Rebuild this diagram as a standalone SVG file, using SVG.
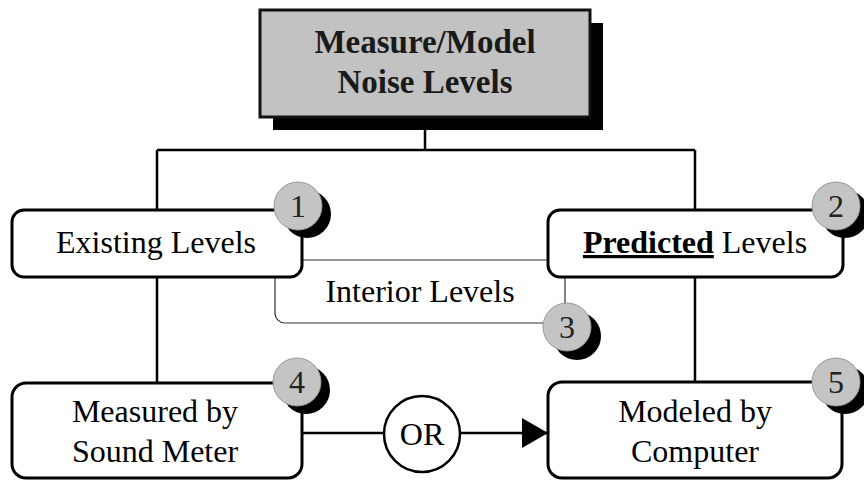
<svg xmlns="http://www.w3.org/2000/svg" width="864" height="482" viewBox="0 0 864 482">
<style>
.box{fill:#fff;stroke:#000;stroke-width:3}
.line{stroke:#000;stroke-width:2.5;fill:none}
.thin{stroke:#333;stroke-width:1.2;fill:none}
.t{font-family:"Liberation Serif","Times New Roman",serif;font-size:32px;fill:#000;text-anchor:middle}
.tb{font-family:"Liberation Serif","Times New Roman",serif;font-size:33px;font-weight:bold;fill:#1a1a1a;text-anchor:middle}
.bg{fill:#c4c4c4;stroke:#999;stroke-width:1}
.bs{fill:#000}
.bn{font-family:"Liberation Serif","Times New Roman",serif;font-size:32px;fill:#222;text-anchor:middle}
</style>
<defs>
<marker id="arr" markerWidth="26" markerHeight="30" refX="25" refY="15" orient="auto" markerUnits="userSpaceOnUse">
<path d="M0,0 L26,15 L0,30 Z" fill="#000"/>
</marker>
</defs>
<g id="connectors">
<path class="line" d="M425,130 V150 M157,150 H695 M157,150 V210 M695,150 V210 M157,277 V383 M695,277 V382"/>
<path class="line" d="M302,433 H384 M460,433 H547" marker-end="url(#arr)"/>
</g>
<g id="node-interior">
<rect class="thin" x="275" y="260" width="290" height="63" rx="10" fill="none"/>
<text class="t" x="420" y="302">Interior Levels</text>
</g>
<g id="node-top">
<rect x="273" y="23" width="330" height="107" fill="#000"/>
<rect x="260" y="10" width="330" height="107" fill="#c2c2c2" stroke="#111" stroke-width="3"/>
<text class="tb" x="425" y="53">Measure/Model</text>
<text class="tb" x="425" y="93">Noise Levels</text>
</g>
<g id="node-1">
<rect class="box" x="12" y="210" width="290" height="67" rx="12"/>
<text class="t" x="156" y="253">Existing Levels</text>
</g>
<g id="node-2">
<rect class="box" x="548" y="210" width="295" height="67" rx="12"/>
<text class="t" x="695" y="253"><tspan font-weight="bold" text-decoration="underline">Predicted</tspan> Levels</text>
</g>
<g id="node-4">
<rect class="box" x="12" y="383" width="290" height="95" rx="14"/>
<text class="t" x="155" y="422">Measured by</text>
<text class="t" x="155" y="462">Sound Meter</text>
</g>
<g id="node-5">
<rect class="box" x="548" y="382" width="294" height="96" rx="14"/>
<text class="t" x="695" y="422">Modeled by</text>
<text class="t" x="695" y="462">Computer</text>
</g>
<g id="node-or">
<circle cx="422" cy="434" r="38" fill="#fff" stroke="#000" stroke-width="2.5"/>
<text class="t" x="422" y="445">OR</text>
</g>
<g id="badge-1">
<circle class="bs" cx="307" cy="214" r="24"/>
<circle class="bg" cx="298" cy="206" r="24"/>
<text class="bn" x="298" y="217">1</text>
</g>
<g id="badge-2">
<circle class="bs" cx="845" cy="214" r="24"/>
<circle class="bg" cx="836" cy="206" r="24"/>
<text class="bn" x="836" y="217">2</text>
</g>
<g id="badge-3">
<circle class="bs" cx="577" cy="336" r="24"/>
<circle class="bg" cx="567" cy="327" r="24"/>
<text class="bn" x="567" y="338">3</text>
</g>
<g id="badge-4">
<circle class="bs" cx="306" cy="390" r="24"/>
<circle class="bg" cx="297" cy="382" r="24"/>
<text class="bn" x="297" y="393">4</text>
</g>
<g id="badge-5">
<circle class="bs" cx="845" cy="390" r="24"/>
<circle class="bg" cx="836" cy="382" r="24"/>
<text class="bn" x="836" y="393">5</text>
</g>
</svg>
